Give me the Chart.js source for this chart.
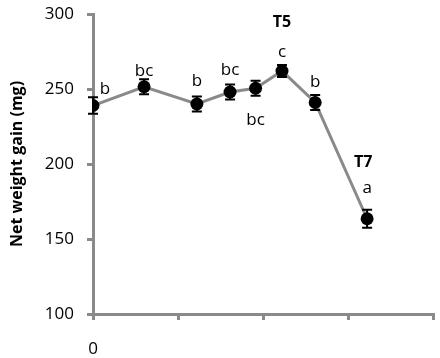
<!DOCTYPE html>
<html>
<head>
<meta charset="utf-8">
<script src="https://cdn.jsdelivr.net/npm/chart.js@4.4.1/dist/chart.umd.min.js"></script>
<style>
html,body{margin:0;padding:0;background:#fff;}
#wrap{width:440px;height:358px;position:relative;}
</style>
</head>
<body>
<div id="wrap"><canvas id="c" width="440" height="358"></canvas></div>
<script>
// Data
const xValues = [0, 6, 12.2, 16.1, 19.1, 22.2, 26.1, 32.2];
const netWeightGain = [239, 251.5, 240, 248, 250.5, 262, 241, 163.5];
const errors = [5.5, 5, 5, 5, 5, 4, 5, 6];
const letters = ["b", "bc", "b", "bc", "bc", "c", "b", "a"];
const treatmentLabels = {5: "T5", 7: "T7"};
const yTicks = [100, 150, 200, 250, 300];
const xTickLabels = {0: "0"};

// label pixel offsets from each point (styling only): [dx, dy to baseline]
const letterOffsets = [[12, -12], [0, -11], [0, -18], [0, -17], [0, 37], [0, -14], [0, -16], [0, -26]];
const treatmentOffsets = {5: [0, -44], 7: [-4, -52]};

const FONT = "'Open Sans', 'Liberation Sans', sans-serif";
const GREY = '#8a8a8a';

const points = xValues.map((x, i) => ({x: x, y: netWeightGain[i]}));

const annotPlugin = {
  id: 'annot',
  afterDatasetsDraw(chart) {
    const ctx = chart.ctx;
    const xs = chart.scales.x, ys = chart.scales.y;
    ctx.save();
    // error bars
    ctx.strokeStyle = '#000';
    ctx.lineWidth = 2;
    points.forEach((p, i) => {
      const px = xs.getPixelForValue(p.x);
      const top = ys.getPixelForValue(p.y + errors[i]);
      const bot = ys.getPixelForValue(p.y - errors[i]);
      ctx.beginPath();
      ctx.moveTo(px, top); ctx.lineTo(px, bot);
      ctx.moveTo(px - 5, top); ctx.lineTo(px + 5, top);
      ctx.moveTo(px - 5, bot); ctx.lineTo(px + 5, bot);
      ctx.stroke();
    });
    // letters
    ctx.fillStyle = '#000';
    ctx.font = "17px " + FONT;
    ctx.textAlign = 'center';
    ctx.textBaseline = 'alphabetic';
    points.forEach((p, i) => {
      const px = xs.getPixelForValue(p.x);
      const py = ys.getPixelForValue(p.y);
      ctx.fillText(letters[i], px + letterOffsets[i][0], py + letterOffsets[i][1]);
    });
    // treatment labels
    ctx.font = "bold 16px " + FONT;
    Object.keys(treatmentLabels).forEach(k => {
      const i = Number(k);
      const p = points[i];
      const px = xs.getPixelForValue(p.x);
      const py = ys.getPixelForValue(p.y);
      ctx.fillText(treatmentLabels[k], px + treatmentOffsets[k][0], py + treatmentOffsets[k][1]);
    });
    ctx.restore();
  }
};

new Chart(document.getElementById('c'), {
  type: 'scatter',
  data: {
    datasets: [{
      data: points,
      showLine: true,
      borderColor: GREY,
      borderWidth: 3,
      pointRadius: 6.5,
      pointBackgroundColor: '#000',
      pointBorderColor: '#000',
      pointBorderWidth: 0,
      tension: 0
    }]
  },
  options: {
    responsive: false,
    animation: false,
    layout: {padding: {left: 0, right: 4, top: 14, bottom: 0}},
    plugins: {legend: {display: false}, tooltip: {enabled: false}},
    scales: {
      x: {
        type: 'linear',
        min: 0, max: 40,
        afterBuildTicks(scale) { scale.ticks = [0,10,20,30,40].map(v => ({value: v})); },
        afterFit(scale) { scale.height = 44; scale.paddingLeft = 0; scale.paddingRight = 0; },
        ticks: {
          callback: v => (xTickLabels[v] !== undefined ? xTickLabels[v] : ''),
          color: '#000',
          font: {family: FONT, size: 17},
          padding: 19,
          maxRotation: 0
        },
        grid: {drawOnChartArea: false, tickLength: 6, color: GREY, lineWidth: 3},
        border: {color: GREY, width: 3}
      },
      y: {
        min: 100, max: 300,
        afterBuildTicks(scale) { scale.ticks = yTicks.map(v => ({value: v})); },
        afterFit(scale) { scale.width = 93; scale.paddingTop = 0; scale.paddingBottom = 0; },
        ticks: {
          color: '#000',
          font: {family: FONT, size: 17},
          padding: 13
        },
        grid: {drawOnChartArea: false, tickLength: 6, color: GREY, lineWidth: 3},
        border: {color: GREY, width: 3},
        title: {
          display: true,
          text: 'Net weight gain (mg)',
          color: '#000',
          font: {family: FONT, size: 16, weight: 'bold'},
          padding: {top: 8, bottom: 0}
        }
      }
    }
  },
  plugins: [annotPlugin]
});
</script>
</body>
</html>
